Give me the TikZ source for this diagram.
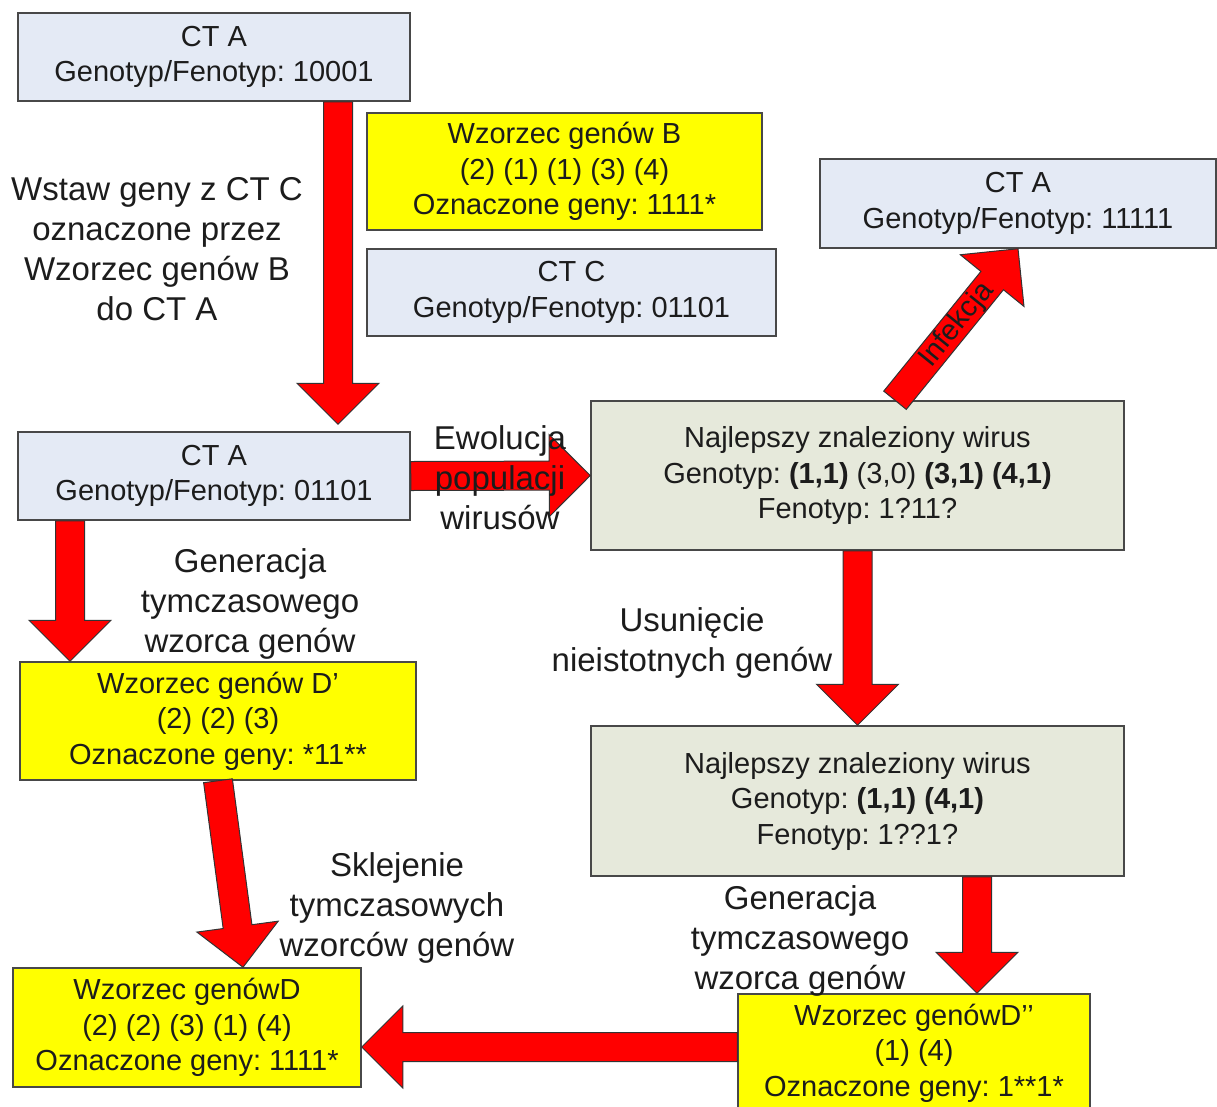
\documentclass[tikz,border=0pt]{standalone}
\usepackage{fontspec}
\setmainfont{Liberation Sans}
\usetikzlibrary{calc}
\frenchspacing

\definecolor{boxblue}{RGB}{228,234,245}
\definecolor{boxgreen}{RGB}{230,233,219}
\definecolor{boxyellow}{RGB}{255,255,0}
\definecolor{arrowred}{RGB}{255,0,0}
\definecolor{ink}{RGB}{28,28,28}
\definecolor{frame}{RGB}{72,72,72}

\newcommand\boxfont{\fontsize{29}{35.5}\selectfont}
\newcommand\lblfont{\fontsize{33}{40}\selectfont}

\tikzset{
  box/.style={draw=frame, line width=1.5pt, align=center, text=ink,
    font=\boxfont, inner sep=0pt},
  bluebox/.style={box, fill=boxblue},
  greenbox/.style={box, fill=boxgreen},
  yellowbox/.style={box, fill=boxyellow},
  lbl/.style={align=center, text=ink, font=\lblfont, inner sep=0pt},
  blockarrowstyle/.style={fill=arrowred, draw=black!80, line width=1pt,
    line join=miter},
}

% wide block arrow from the tail centre #1 to the tip #2
\newcommand\blockarrow[2]{%
  \coordinate (ba-h) at ($(#2)!41pt!(#1)$);
  \draw[blockarrowstyle]
    ($(#1)!14.5pt!90:(#2)$) -- ($(ba-h)!14.5pt!-90:(#1)$)
    -- ($(ba-h)!41pt!-90:(#1)$) -- (#2)
    -- ($(ba-h)!41pt!90:(#1)$) -- ($(ba-h)!14.5pt!90:(#1)$)
    -- ($(#1)!14.5pt!-90:(#2)$) -- cycle;
}

\begin{document}
\begin{tikzpicture}[x=1pt, y=1pt]
\useasboundingbox (0,0) rectangle (1217,-1106);

% boxes
\node[bluebox, minimum width=392pt, minimum height=88pt] (ctA1) at (214,-57)
  {CT A\\Genotyp/Fenotyp: 10001};
\node[yellowbox, minimum width=395pt, minimum height=117pt] (wzB) at (564.5,-171.5)
  {Wzorzec genów B\\(2) (1) (1) (3) (4)\\Oznaczone geny: 1111*};
\node[bluebox, minimum width=409pt, minimum height=87pt] (ctC) at (571.5,-292.5)
  {CT C\\Genotyp/Fenotyp: 01101};
\node[bluebox, minimum width=396pt, minimum height=89pt] (ctA3) at (1018,-203.5)
  {CT A\\Genotyp/Fenotyp: 11111};
\node[bluebox, minimum width=392pt, minimum height=88pt] (ctA2) at (214,-476)
  {CT A\\Genotyp/Fenotyp: 01101};
\node[greenbox, minimum width=533pt, minimum height=149pt] (best1) at (857.5,-475.5)
  {Najlepszy znaleziony wirus\\Genotyp: \textbf{(1,1)} (3,0) \textbf{(3,1) (4,1)}\\Fenotyp: 1?11?};
\node[yellowbox, minimum width=396pt, minimum height=118pt] (wzD1) at (218,-721)
  {Wzorzec genów D’\\(2) (2) (3)\\Oznaczone geny: *11**};
\node[greenbox, minimum width=533pt, minimum height=150pt] (best2) at (857.5,-801)
  {Najlepszy znaleziony wirus\\Genotyp: \textbf{(1,1) (4,1)}\\Fenotyp: 1??1?};
\node[yellowbox, minimum width=348pt, minimum height=119pt] (wzD) at (187,-1027.5)
  {Wzorzec genówD\\(2) (2) (3) (1) (4)\\Oznaczone geny: 1111*};
\node[yellowbox, minimum width=352pt, minimum height=118pt] (wzD2) at (914,-1053)
  {Wzorzec genówD’’\\(1) (4)\\Oznaczone geny: 1**1*};

% arrow ends on the boxes
\coordinate (a1t) at ([xshift=124pt]ctA1.south);
\coordinate (a1h) at ([xshift=124pt, yshift=7pt]ctA2.north);
\coordinate (a3t) at ([xshift=37.5pt]best1.north);
\coordinate (a4t) at ([xshift=-144pt]ctA2.south);
\coordinate (a4h) at ([xshift=-148pt]wzD1.north);
\coordinate (a6h) at ([xshift=56pt]wzD.north);
\coordinate (a7t) at ([xshift=119.5pt]best2.south);
\coordinate (a7h) at ([xshift=63pt]wzD2.north);
\coordinate (a8t) at ([yshift=6pt]wzD2.west);
\coordinate (a8h) at (wzD.east |- a8t);

\blockarrow{a1t}{a1h}
\blockarrow{ctA2.east}{best1.west}
\blockarrow{a3t}{ctA3.south}
\blockarrow{a4t}{a4h}
\blockarrow{best1.south}{best2.north}
\blockarrow{wzD1.south}{a6h}
\blockarrow{a7t}{a7h}
\blockarrow{a8t}{a8h}

% step labels
\node[lbl] (l1) at (157,-249) {Wstaw geny z CT C\\oznaczone przez\\Wzorzec genów B\\do CT A};
\node[lbl] (l2) at (500,-478) {Ewolucja\\populacji\\wirusów};
\node[lbl] (l3) at (250,-604) {Generacja\\tymczasowego\\wzorca genów};
\node[lbl] (l4) at (692,-642.5) {Usunięcie\\nieistotnych genów};
\node[lbl] (l5) at (397,-908) {Sklejenie\\tymczasowych\\wzorców genów};
\node[lbl] (l6) at (800,-941) {Generacja\\tymczasowego\\wzorca genów};
\node[lbl, font=\boxfont, rotate=51] (l7) at (957,-325) {Infekcja};
\end{tikzpicture}
\end{document}
